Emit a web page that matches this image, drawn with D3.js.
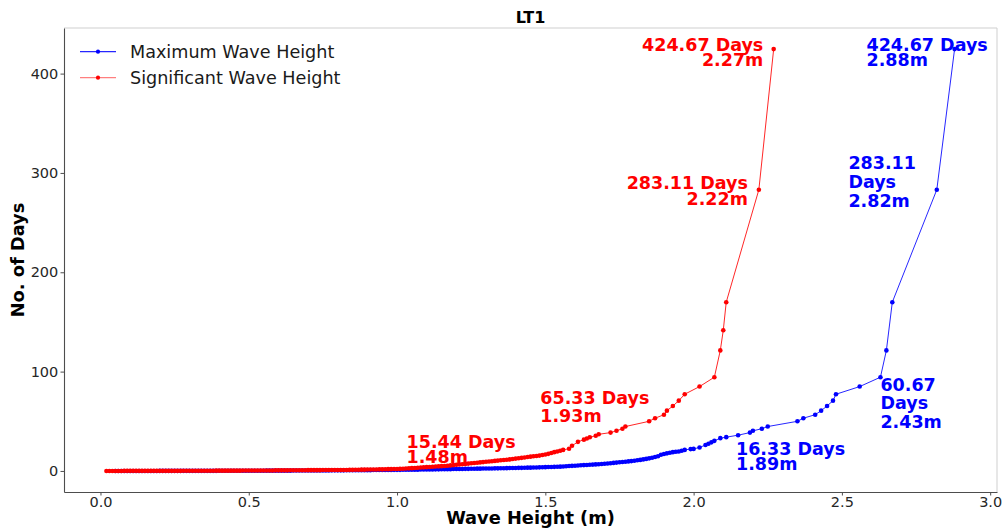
<!DOCTYPE html>
<html>
<head>
<meta charset="utf-8">
<script src="https://cdn.jsdelivr.net/npm/d3@7"></script>
<style>
  body { margin: 0; background: #fff; }
  svg { font-family: "DejaVu Sans", sans-serif; display: block; }
</style>
</head>
<body>
<div id="container"></div>
<script>
const w = 1003, h = 531;
const margin = {top: 28, right: 6, bottom: 39, left: 64};

// x axis and y axis ticks
const xTicks = [0.0, 0.5, 1.0, 1.5, 2.0, 2.5, 3.0];
const yTicks = [0, 100, 200, 300, 400];
const seriesNames = ["Maximum Wave Height", "Significant Wave Height"];

// Significant wave height: dense part, one value per 0.01 m starting at 0.02 m
const sigStart = 0.02;
const sigDenseDays = [
  0.0,0.0,0.0,0.0,0.0,0.0,0.1,0.1,0.1,0.1,
  0.1,0.1,0.1,0.1,0.1,0.1,0.1,0.1,0.1,0.1,
  0.1,0.1,0.1,0.1,0.1,0.1,0.2,0.2,0.2,0.2,
  0.2,0.2,0.2,0.2,0.2,0.2,0.2,0.3,0.3,0.3,
  0.3,0.3,0.3,0.3,0.3,0.3,0.4,0.4,0.4,0.4,
  0.4,0.4,0.5,0.5,0.5,0.5,0.5,0.6,0.6,0.6,
  0.6,0.6,0.7,0.7,0.7,0.7,0.7,0.7,0.8,0.8,
  0.8,0.8,0.8,0.9,0.9,0.9,0.9,1.0,1.0,1.0,
  1.0,1.0,1.1,1.1,1.2,1.2,1.3,1.3,1.4,1.4,
  1.5,1.5,1.6,1.6,1.7,1.8,1.8,1.9,2.0,2.1,
  2.2,2.4,2.6,2.8,3.0,3.2,3.4,3.6,3.8,4.0,
  4.2,4.4,4.6,4.8,5.0,5.3,5.6,5.9,6.2,6.5,
  6.8,7.1,7.4,7.7,8.0,8.3,8.6,8.9,9.2,9.5,
  9.8,10.1,10.4,10.7,11.0,11.3,11.6,12.0,12.4,12.8,
  13.2,13.6,14.0,14.4,14.8,15.1,15.44,16.0,16.6,17.2,
  18.0,18.9,19.6,20.3,21.2
];
// Significant wave height: sparse upper part
const sigTailHeight = [1.58, 1.59, 1.61, 1.63, 1.64, 1.65, 1.67, 1.68, 1.72, 1.74, 1.76, 1.77,
                       1.85, 1.87, 1.90, 1.91, 1.93, 1.95, 1.97, 2.02, 2.07, 2.09, 2.10, 2.11, 2.22, 2.27];
const sigTailDays   = [22.4, 25.3, 29.3, 31.5, 32.7, 33.9, 35.4, 36.9, 38.6, 40.4, 42.5, 44.7,
                       49.96, 53.08, 56.62, 60.67, 65.33, 70.78, 77.21, 84.93, 94.37, 121.33, 141.56, 169.87, 283.11, 424.67];

// Maximum wave height: dense part, one value per 0.01 m starting at 0.05 m
const maxStart = 0.05;
const maxDenseDays = [
  0.0,0.0,0.0,0.0,0.0,0.0,0.0,0.0,0.0,0.0,
  0.0,0.0,0.0,0.0,0.0,0.1,0.1,0.1,0.1,0.1,
  0.1,0.1,0.1,0.1,0.1,0.1,0.1,0.1,0.1,0.1,
  0.1,0.1,0.1,0.1,0.1,0.2,0.2,0.2,0.2,0.2,
  0.2,0.2,0.2,0.2,0.2,0.2,0.2,0.2,0.2,0.2,
  0.2,0.3,0.3,0.3,0.3,0.3,0.3,0.3,0.3,0.3,
  0.4,0.4,0.4,0.4,0.4,0.4,0.4,0.5,0.5,0.5,
  0.5,0.5,0.5,0.6,0.6,0.6,0.6,0.6,0.7,0.7,
  0.7,0.7,0.7,0.8,0.8,0.8,0.8,0.9,0.9,0.9,
  0.9,1.0,1.0,1.0,1.1,1.1,1.1,1.2,1.2,1.2,
  1.3,1.3,1.3,1.4,1.4,1.5,1.5,1.5,1.6,1.6,
  1.7,1.7,1.8,1.8,1.9,1.9,2.0,2.0,2.1,2.1,
  2.2,2.2,2.3,2.3,2.4,2.4,2.5,2.5,2.6,2.6,
  2.7,2.7,2.8,2.9,2.9,3.0,3.1,3.1,3.2,3.3,
  3.3,3.4,3.5,3.6,3.7,3.8,3.9,4.0,4.1,4.2,
  4.3,4.5,4.7,4.9,5.1,5.3,5.5,5.7,5.9,6.0,
  6.2,6.4,6.6,6.8,7.0,7.2,7.5,7.8,8.1,8.4,
  8.7,9.0,9.3,9.6,9.9,10.3,10.7,11.1,11.6,12.1,
  12.7,13.3,14.0,14.8,16.33,17.0,17.7,18.3,18.9,19.3,
  19.6
];
// Maximum wave height: sparse upper part
const maxTailHeight = [1.96, 1.97, 1.99, 2.00, 2.02, 2.04, 2.05, 2.06, 2.07, 2.09, 2.11, 2.15, 2.19, 2.20,
                       2.23, 2.25, 2.35, 2.37, 2.41, 2.43, 2.45, 2.47, 2.48, 2.56, 2.63, 2.65, 2.67, 2.82, 2.88];
const maxTailDays   = [20.3, 21.2, 22.0, 22.2, 23.6, 26.1, 27.4, 28.8, 30.3, 33.0, 34.0, 36.0, 38.6, 40.4,
                       42.5, 44.7, 49.96, 53.08, 56.62, 60.67, 65.33, 70.78, 77.21, 84.93, 94.37, 121.33, 169.87, 283.11, 424.67];

// annotation texts
const sigNotes = [
  {lines: ["424.67 Days", "2.27m"], h: 2.235, days: 423.0, anchor: "end", lh: 15},
  {lines: ["283.11 Days", "2.22m"], h: 2.183, days: 283.4, anchor: "end", lh: 16},
  {lines: ["65.33 Days", "1.93m"], h: 1.483, days: 67.3, anchor: "start", lh: 17.5},
  {lines: ["15.44 Days", "1.48m"], h: 1.032, days: 23.1, anchor: "start", lh: 15}
];
const maxNotes = [
  {lines: ["424.67 Days", "2.88m"], h: 2.583, days: 423.0, anchor: "start", lh: 15},
  {lines: ["283.11", "Days", "2.82m"], h: 2.522, days: 303.5, anchor: "start", lh: 19},
  {lines: ["60.67", "Days", "2.43m"], h: 2.630, days: 80.7, anchor: "start", lh: 18.6},
  {lines: ["16.33 Days", "1.89m"], h: 2.143, days: 16.1, anchor: "start", lh: 15}
];

const blue = "#0000ff", red = "#ff0000";

// build point lists
const toPoints = (start, dense, tailH, tailD) =>
  dense.map((d, i) => ({h: start + i * 0.01, days: d}))
       .concat(tailH.map((t, i) => ({h: t, days: tailD[i]})));
const maxPts = toPoints(maxStart, maxDenseDays, maxTailHeight, maxTailDays);
const sigPts = toPoints(sigStart, sigDenseDays, sigTailHeight, sigTailDays);

// CHART
const chart = d3.select('#container')
                .append('svg')
                .attr('width', w)
                .attr('height', h);

const x = d3.scaleLinear()
            .domain([-0.123, 3.023])
            .range([margin.left, w - margin.right]);
const y = d3.scaleLinear()
            .domain([-21.2, 445.9])
            .range([h - margin.bottom, margin.top]);

// top / right spines (light)
chart.append('line')
     .attr('x1', margin.left).attr('x2', w - margin.right)
     .attr('y1', margin.top).attr('y2', margin.top)
     .attr('stroke', '#cfcfcf').attr('stroke-width', 1);
chart.append('line')
     .attr('x1', w - margin.right).attr('x2', w - margin.right)
     .attr('y1', margin.top).attr('y2', h - margin.bottom)
     .attr('stroke', '#cfcfcf').attr('stroke-width', 1);

// AXES
const xAxis = d3.axisBottom(x)
                .tickValues(xTicks)
                .tickFormat(d3.format('.1f'))
                .tickSize(3.5)
                .tickSizeOuter(0)
                .tickPadding(1.5);
const gx = chart.append('g')
                .attr('transform', `translate(0, ${h - margin.bottom})`)
                .call(xAxis);

const yAxis = d3.axisLeft(y)
                .tickValues(yTicks)
                .tickFormat(d3.format('d'))
                .tickSize(3.5)
                .tickSizeOuter(0)
                .tickPadding(2.2);
const gy = chart.append('g')
                .attr('transform', `translate(${margin.left}, 0)`)
                .call(yAxis);

[gx, gy].forEach(g => {
  g.select('.domain').attr('stroke', '#4d4d4d').attr('stroke-width', 1.1);
  g.selectAll('.tick line').attr('stroke', '#4d4d4d');
  g.selectAll('.tick text')
   .attr('fill', '#262626')
   .style('font-size', '14.5px')
   .style('font-family', '"DejaVu Sans", sans-serif');
});

// TITLES
chart.append('text')
     .attr('x', (margin.left + w - margin.right) / 2)
     .attr('y', 23)
     .attr('text-anchor', 'middle')
     .style('font-weight', 'bold')
     .style('font-size', '16px')
     .text("LT1");

chart.append('text')
     .attr('x', (margin.left + w - margin.right) / 2)
     .attr('y', 524)
     .attr('text-anchor', 'middle')
     .style('font-weight', 'bold')
     .style('font-size', '17.8px')
     .text("Wave Height (m)");

chart.append('text')
     .attr('transform', `translate(24, ${(margin.top + h - margin.bottom) / 2}) rotate(-90)`)
     .attr('text-anchor', 'middle')
     .style('font-weight', 'bold')
     .style('font-size', '17.8px')
     .text("No. of Days");

// SERIES
const line = d3.line()
               .x(d => x(d.h))
               .y(d => y(d.days));

function drawSeries(pts, color) {
  chart.append('path')
       .datum(pts)
       .attr('fill', 'none')
       .attr('stroke', color)
       .attr('stroke-width', 1)
       .attr('stroke-opacity', 0.85)
       .attr('d', line);
  chart.append('g')
       .selectAll('circle')
       .data(pts).enter()
       .append('circle')
       .attr('cx', d => x(d.h))
       .attr('cy', d => y(d.days))
       .attr('r', 2.3)
       .attr('fill', color);
}
drawSeries(maxPts, blue);
drawSeries(sigPts, red);

// ANNOTATIONS
function drawNotes(notes, color) {
  notes.forEach(n => {
    const t = chart.append('text')
                   .attr('x', x(n.h))
                   .attr('y', y(n.days))
                   .attr('text-anchor', n.anchor)
                   .attr('fill', color)
                   .style('font-weight', 'bold')
                   .style('font-size', '17.5px');
    n.lines.forEach((s, i) => {
      t.append('tspan')
       .attr('x', x(n.h))
       .attr('dy', i === 0 ? 0 : n.lh)
       .text(s);
    });
  });
}
drawNotes(sigNotes, red);
drawNotes(maxNotes, blue);

// LEGEND
const legend = chart.append('g');
[blue, red].forEach((c, i) => {
  const ly = 51.7 + i * 26;
  legend.append('line')
        .attr('x1', 80).attr('x2', 116)
        .attr('y1', ly).attr('y2', ly)
        .attr('stroke', c)
        .attr('stroke-opacity', i === 0 ? 0.85 : 0.5)
        .attr('stroke-width', 1.2);
  legend.append('circle')
        .attr('cx', 98).attr('cy', ly)
        .attr('r', 2.1)
        .attr('fill', c);
  legend.append('text')
        .attr('x', 130)
        .attr('y', ly + 6)
        .attr('fill', '#1a1a1a')
        .style('font-size', '17.6px')
        .text(seriesNames[i]);
});
</script>
</body>
</html>
